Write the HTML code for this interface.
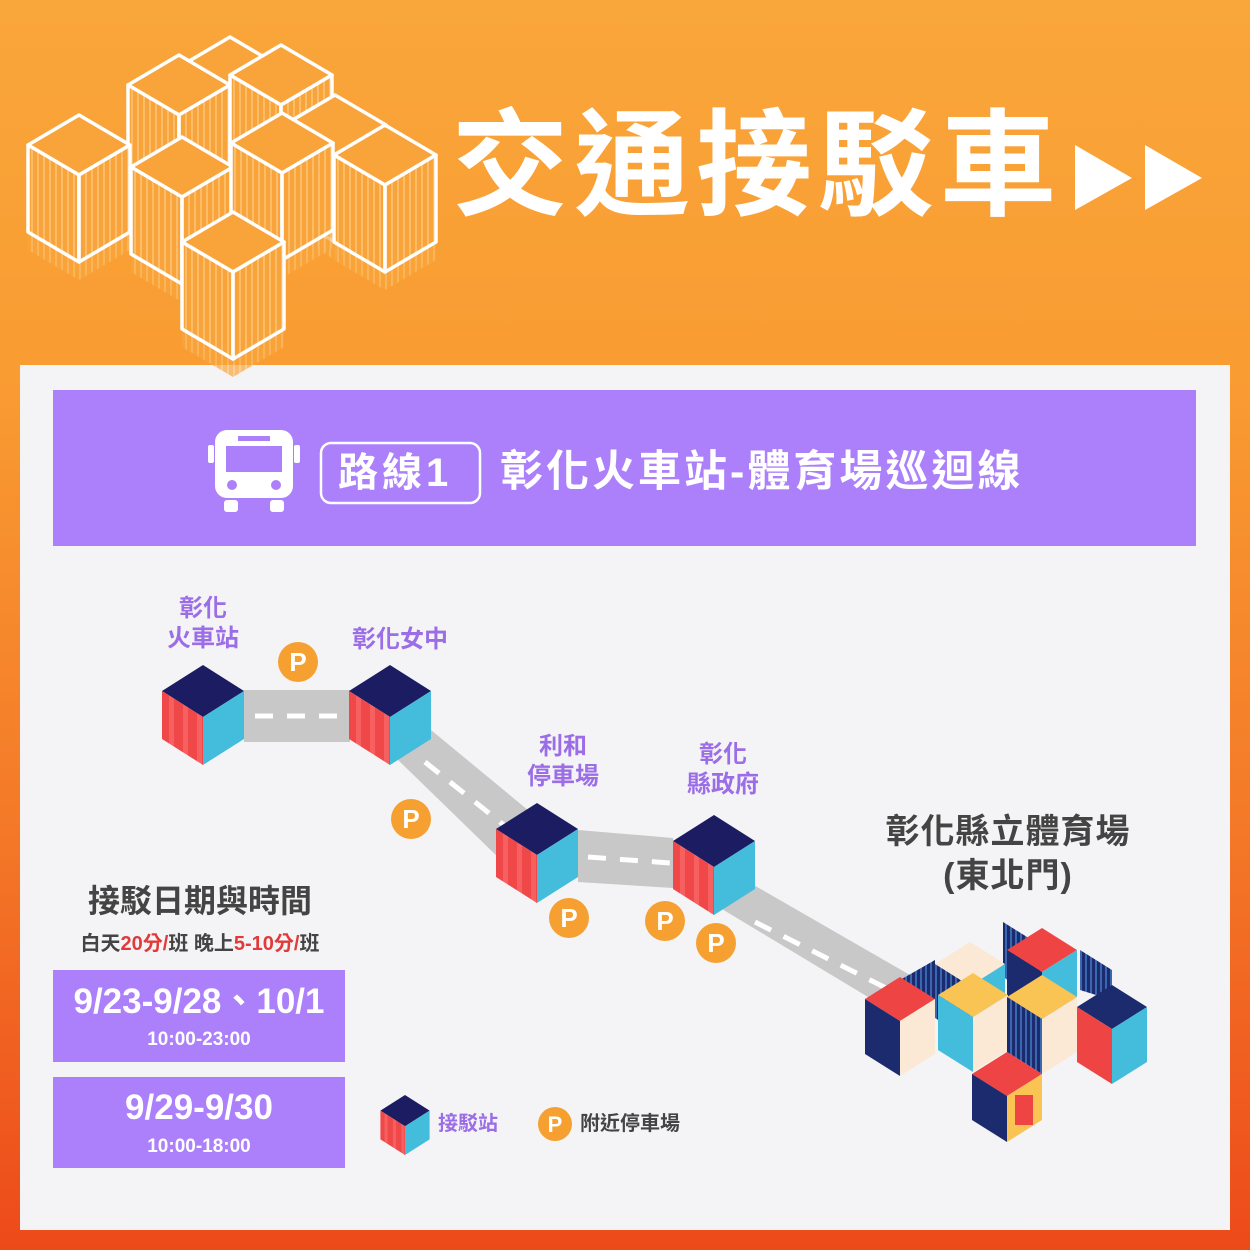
<!DOCTYPE html>
<html><head><meta charset="utf-8"><style>
body{margin:0;width:1250px;height:1250px;overflow:hidden;font-family:"Liberation Sans","Noto Sans CJK TC",sans-serif;}
.bg{position:absolute;left:0;top:0;width:1250px;height:1250px;background:linear-gradient(#f9a63a 0%,#f99c32 30%,#f47a28 65%,#ed4a1a 100%);}
.t{position:absolute;white-space:nowrap;font-weight:bold;}
</style></head><body>
<div class="bg"></div>
<svg style="position:absolute;left:0;top:0" width="1250" height="1250">
<defs>
<pattern id="st" width="6" height="10" patternUnits="userSpaceOnUse"><rect width="6" height="10" fill="#f9a43a"/><rect width="2" height="10" fill="#fbbd6a"/></pattern>
<pattern id="rs" width="14" height="10" patternUnits="userSpaceOnUse"><rect width="14" height="10" fill="#f04848"/><rect x="8" width="5" height="10" fill="#f76060"/></pattern>
<pattern id="ns" width="5" height="10" patternUnits="userSpaceOnUse"><rect width="5" height="10" fill="#1c2a6e"/><rect width="2" height="10" fill="#3a68b0"/></pattern>
<g id="wc" stroke="#fff" stroke-width="3.5" stroke-linejoin="round">
<polygon points="-51,117 0,147 51,117 51,135 0,165 -51,135" fill="url(#st)" stroke="none" opacity="0.7"/>
<polygon points="0,0 51,30 0,60 -51,30" fill="#f9a43a"/>
<polygon points="-51,30 0,60 0,147 -51,117" fill="url(#st)"/>
<polygon points="51,30 0,60 0,147 51,117" fill="url(#st)"/>
</g>
<g id="rc">
<polygon points="0,0 41,26 0,52 -41,26" fill="#1c1c63"/>
<polygon points="-41,26 0,52 0,100 -41,74" fill="url(#rs)"/>
<polygon points="41,26 0,52 0,100 41,74" fill="#44bcdc"/>
</g>
</defs>
<rect x="20" y="365" width="1210" height="865" fill="#f4f4f6"/>
<g>
<use href="#wc" x="230" y="37"/><use href="#wc" x="179" y="55"/><use href="#wc" x="281" y="45"/>
<use href="#wc" x="335" y="95"/>
<use href="#wc" x="79" y="115"/><use href="#wc" x="182" y="137"/><use href="#wc" x="282" y="113"/>
<use href="#wc" x="385" y="125"/><use href="#wc" x="233" y="212"/>
</g>
<polygon points="1075,145 1075,210 1132,178" fill="#fff"/>
<polygon points="1145,145 1145,210 1202,178" fill="#fff"/>
<rect x="53" y="390" width="1143" height="156" fill="#ab80fa"/>
<g fill="#fff">
<rect x="215" y="430" width="78" height="68" rx="12"/>
<rect x="224" y="500" width="14" height="12" rx="3"/><rect x="270" y="500" width="14" height="12" rx="3"/>
<rect x="208" y="445" width="6" height="18" rx="2"/><rect x="294" y="445" width="6" height="18" rx="2"/>
</g>
<rect x="226" y="446" width="56" height="26" fill="#ab80fa"/>
<rect x="238" y="436" width="32" height="5" fill="#ab80fa"/>
<circle cx="232" cy="485" r="5" fill="#ab80fa"/><circle cx="276" cy="485" r="5" fill="#ab80fa"/>
<rect x="321" y="443" width="159" height="60" rx="10" fill="none" stroke="#fff" stroke-width="2.5"/>
<g fill="#c8c8c8">
<rect x="244" y="690" width="106" height="52"/>
<polygon points="395,757 431,730 540,820 503,862"/>
<polygon points="578,830 673,838 673,888 578,882"/>
<polygon points="712,903 745,880 910,975 878,1003"/>
</g>
<g stroke="#fff" stroke-width="5" stroke-dasharray="18,14">
<line x1="255" y1="716" x2="345" y2="716"/>
<line x1="425" y1="762" x2="510" y2="830"/>
<line x1="588" y1="857" x2="670" y2="863"/>
<line x1="755" y1="922" x2="890" y2="990"/>
</g>
<use href="#rc" x="203" y="665"/><use href="#rc" x="390" y="665"/>
<use href="#rc" x="537" y="803"/><use href="#rc" x="714" y="815"/>
<g transform="translate(405,1095) scale(0.6)"><use href="#rc" x="0" y="0"/></g>
<g font-family="Liberation Sans" font-weight="bold" font-size="26" text-anchor="middle" fill="#fff">
<circle cx="298" cy="662" r="20" fill="#f5a030"/><text x="298" y="671">P</text>
<circle cx="411" cy="819" r="20" fill="#f5a030"/><text x="411" y="828">P</text>
<circle cx="569" cy="918" r="20" fill="#f5a030"/><text x="569" y="927">P</text>
<circle cx="665" cy="921" r="20" fill="#f5a030"/><text x="665" y="930">P</text>
<circle cx="716" cy="943" r="20" fill="#f5a030"/><text x="716" y="952">P</text>
<circle cx="555" cy="1124" r="17" fill="#f5a030"/><text x="555" y="1132" font-size="22">P</text>
</g>
<g>
<polygon points="1003,922 1040,945 1040,1000 1003,977" fill="url(#ns)"/>
<polygon points="1080,950 1112,970 1112,1000 1080,990" fill="url(#ns)"/>
<polygon points="900,980 935,960 935,1000" fill="url(#ns)"/>
<polygon points="970,942 1005,964 970,986 935,964" fill="#fbe9d6"/>
<polygon points="935,964 970,986 970,1040 935,1018" fill="url(#ns)"/>
<polygon points="1005,964 970,986 970,1040 1005,1018" fill="#44bcdc"/>
<polygon points="1042,928 1077,950 1042,972 1007,950" fill="#ee4444"/>
<polygon points="1007,950 1042,972 1042,1026 1007,1004" fill="#1c2a6e"/>
<polygon points="1077,950 1042,972 1042,1026 1077,1004" fill="#44bcdc"/>
<polygon points="900,977 935,999 900,1021 865,999" fill="#ee4444"/>
<polygon points="865,999 900,1021 900,1076 865,1054" fill="#1c2a6e"/>
<polygon points="935,999 900,1021 900,1076 935,1054" fill="#fbe9d6"/>
<polygon points="973,973 1008,995 973,1017 938,995" fill="#f9c453"/>
<polygon points="938,995 973,1017 973,1072 938,1050" fill="#44bcdc"/>
<polygon points="1008,995 973,1017 973,1072 1008,1050" fill="#fbe9d6"/>
<polygon points="1042,975 1077,997 1042,1019 1007,997" fill="#f9c453"/>
<polygon points="1007,997 1042,1019 1042,1074 1007,1052" fill="url(#ns)"/>
<polygon points="1077,997 1042,1019 1042,1074 1077,1052" fill="#fbe9d6"/>
<polygon points="1112,985 1147,1007 1112,1029 1077,1007" fill="#1c2a6e"/>
<polygon points="1077,1007 1112,1029 1112,1084 1077,1062" fill="#ee4444"/>
<polygon points="1147,1007 1112,1029 1112,1084 1147,1062" fill="#44bcdc"/>
<polygon points="1007,1052 1042,1074 1007,1096 972,1074" fill="#ee4444"/>
<polygon points="972,1074 1007,1096 1007,1142 972,1120" fill="#1c2a6e"/>
<polygon points="1042,1074 1007,1096 1007,1142 1042,1120" fill="#f9c453"/>
<rect x="1015" y="1095" width="18" height="30" fill="#ee4444"/>
</g>
</svg>
<div class="t" style="left:452px;top:98px;font-size:116px;letter-spacing:6px;color:#fff;line-height:136px;">交通接駁車</div>
<div class="t" style="left:338px;top:448px;font-size:40px;letter-spacing:4px;color:#fff;line-height:50px;">路線1</div>
<div class="t" style="left:500px;top:447px;font-size:43px;letter-spacing:3px;color:#fff;line-height:50px;">彰化火車站-體育場巡迴線</div>
<div class="t" style="left:143px;top:594px;width:120px;text-align:center;font-size:24px;color:#9b6ee8;line-height:30px;">彰化<br>火車站</div>
<div class="t" style="left:340px;top:625px;width:120px;text-align:center;font-size:24px;color:#9b6ee8;line-height:30px;">彰化女中</div>
<div class="t" style="left:503px;top:732px;width:120px;text-align:center;font-size:24px;color:#9b6ee8;line-height:30px;">利和<br>停車場</div>
<div class="t" style="left:663px;top:740px;width:120px;text-align:center;font-size:24px;color:#9b6ee8;line-height:30px;">彰化<br>縣政府</div>
<div class="t" style="left:858px;top:810px;width:300px;text-align:center;font-size:34px;letter-spacing:1px;color:#444;line-height:44px;">彰化縣立體育場<br>(東北門)</div>
<div class="t" style="left:50px;top:881px;width:300px;text-align:center;font-size:32px;color:#444;line-height:40px;">接駁日期與時間</div>
<div class="t" style="left:50px;top:930px;width:300px;text-align:center;font-size:20px;color:#444;line-height:28px;">白天<span style="color:#e03a3a">20分/</span>班 晚上<span style="color:#e03a3a">5-10分/</span>班</div>
<div style="position:absolute;left:53px;top:970px;width:292px;height:92px;background:#ab80fa;"></div>
<div style="position:absolute;left:53px;top:1077px;width:292px;height:91px;background:#ab80fa;"></div>
<div class="t" style="left:53px;top:979px;width:292px;text-align:center;font-size:35px;color:#fff;line-height:46px;">9/23-9/28、10/1</div>
<div class="t" style="left:53px;top:1027px;width:292px;text-align:center;font-size:19px;color:#fff;line-height:26px;">10:00-23:00</div>
<div class="t" style="left:53px;top:1085px;width:292px;text-align:center;font-size:35px;color:#fff;line-height:46px;">9/29-9/30</div>
<div class="t" style="left:53px;top:1134px;width:292px;text-align:center;font-size:19px;color:#fff;line-height:26px;">10:00-18:00</div>
<div class="t" style="left:438px;top:1110px;font-size:20px;color:#9b6ee8;line-height:28px;">接駁站</div>
<div class="t" style="left:580px;top:1110px;font-size:20px;color:#444;line-height:28px;">附近停車場</div>
</body></html>
